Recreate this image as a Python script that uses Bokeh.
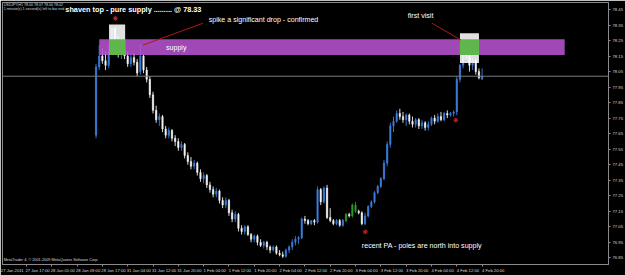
from bokeh.plotting import figure
from bokeh.models import (Range1d, FixedTicker, ColumnDataSource, Span, Label,
                          PrintfTickFormatter)
from bokeh.core.properties import value
from bokeh.embed import file_html
from bokeh.resources import INLINE

# ---------------- data (H1 bars, index = bar number from "27 Jan 2011") -------------
first_bar = 30
opens = [77.64, 78.08, 78.15, 78.12, 78.09, 78.18, 78.33, 78.22, 78.16, 78.19,
         78.15, 78.10, 78.14, 78.11, 78.05, 78.15, 78.06,
         78.00, 77.90, 77.80, 77.74, 77.76, 77.68, 77.64, 77.67, 77.62, 77.60,
         77.56, 77.58, 77.51, 77.47, 77.44, 77.46, 77.40, 77.36, 77.38, 77.32,
         77.29, 77.26, 77.28, 77.22, 77.19, 77.22, 77.14, 77.10, 77.13, 77.04,
         77.02, 77.05, 77.00, 76.97, 76.99, 76.95, 76.93, 76.95, 76.92, 76.90,
         76.92, 76.88, 76.87, 76.86,
         76.90, 76.92, 76.95, 76.97, 76.98, 77.10, 77.09, 77.07, 77.09,
         77.08, 77.29, 77.21, 77.30, 77.11, 77.09, 77.07, 77.09, 77.06, 77.09,
         77.13, 77.12, 77.19, 77.15, 77.14, 77.07, 77.12, 77.18, 77.21, 77.27,
         77.31, 77.36, 77.46, 77.58, 77.70, 77.73, 77.78, 77.76, 77.74, 77.77,
         77.73, 77.71, 77.74, 77.70, 77.72, 77.69, 77.71, 77.75, 77.73, 77.76,
         77.74, 77.78, 77.77, 77.78, 77.79, 78.00, 78.09, 78.21, 78.15, 78.09,
         78.12, 78.05, 78.00]
highs = [78.10, 78.22, 78.20, 78.18, 78.22, 78.33, 78.33, 78.28, 78.22, 78.21,
         78.18, 78.16, 78.17, 78.13, 78.23, 78.16, 78.08,
         78.02, 77.92, 77.83, 77.78, 77.77, 77.70, 77.69, 77.68, 77.64, 77.62,
         77.60, 77.59, 77.53, 77.50, 77.48, 77.47, 77.42, 77.40, 77.39, 77.34,
         77.31, 77.30, 77.29, 77.24, 77.24, 77.23, 77.16, 77.15, 77.14, 77.06,
         77.06, 77.06, 77.01, 77.00, 77.00, 76.97, 76.96, 76.96, 76.93, 76.93,
         76.93, 76.90, 76.89, 76.91,
         76.93, 76.97, 76.99, 76.99, 77.11, 77.12, 77.10, 77.09, 77.10,
         77.31, 77.30, 77.31, 77.32, 77.17, 77.10, 77.10, 77.10, 77.10, 77.14,
         77.14, 77.20, 77.21, 77.16, 77.15, 77.14, 77.19, 77.22, 77.28, 77.32,
         77.37, 77.48, 77.60, 77.72, 77.76, 77.80, 77.81, 77.79, 77.78, 77.78,
         77.76, 77.75, 77.75, 77.74, 77.73, 77.73, 77.76, 77.77, 77.78, 77.79,
         77.79, 77.80, 77.79, 77.80, 78.02, 78.10, 78.23, 78.24, 78.18, 78.14,
         78.13, 78.07, 78.07]
lows = [77.62, 78.06, 78.10, 78.06, 78.07, 78.17, 78.20, 78.14, 78.13, 78.13,
        78.08, 78.08, 78.09, 78.02, 78.03, 78.04, 77.98,
        77.88, 77.78, 77.72, 77.70, 77.66, 77.62, 77.62, 77.60, 77.57, 77.54,
        77.54, 77.49, 77.45, 77.42, 77.42, 77.38, 77.34, 77.33, 77.30, 77.27,
        77.24, 77.24, 77.20, 77.17, 77.17, 77.12, 77.08, 77.08, 77.02, 77.00,
        77.00, 76.99, 76.95, 76.95, 76.93, 76.92, 76.91, 76.90, 76.88, 76.89,
        76.87, 76.86, 76.85, 76.85,
        76.88, 76.90, 76.93, 76.94, 76.97, 77.07, 77.06, 77.06, 77.06,
        77.07, 77.19, 77.20, 77.10, 77.08, 77.06, 77.06, 77.05, 77.05, 77.08,
        77.11, 77.11, 77.14, 77.13, 77.06, 77.06, 77.11, 77.17, 77.20, 77.26,
        77.30, 77.35, 77.44, 77.56, 77.66, 77.72, 77.74, 77.72, 77.70, 77.71,
        77.69, 77.69, 77.68, 77.68, 77.67, 77.67, 77.70, 77.71, 77.72, 77.73,
        77.73, 77.75, 77.76, 77.76, 77.77, 77.98, 78.07, 78.13, 78.05, 78.06,
        78.03, 78.00, 78.00]
closes = [78.08, 78.15, 78.12, 78.09, 78.18, 78.33, 78.22, 78.16, 78.19, 78.15,
          78.10, 78.14, 78.11, 78.04, 78.15, 78.06, 78.00,
          77.90, 77.80, 77.74, 77.76, 77.68, 77.64, 77.67, 77.62, 77.60, 77.56,
          77.58, 77.51, 77.47, 77.44, 77.46, 77.40, 77.36, 77.38, 77.32, 77.29,
          77.26, 77.28, 77.22, 77.19, 77.22, 77.14, 77.10, 77.13, 77.04, 77.02,
          77.05, 77.00, 76.97, 76.99, 76.95, 76.93, 76.95, 76.92, 76.90, 76.92,
          76.88, 76.87, 76.86, 76.90,
          76.92, 76.95, 76.97, 76.98, 77.10, 77.09, 77.07, 77.09, 77.08,
          77.29, 77.21, 77.30, 77.11, 77.09, 77.07, 77.09, 77.06, 77.09, 77.13,
          77.12, 77.19, 77.15, 77.14, 77.07, 77.12, 77.18, 77.21, 77.27, 77.31,
          77.36, 77.46, 77.58, 77.70, 77.73, 77.78, 77.76, 77.74, 77.77, 77.73,
          77.71, 77.74, 77.70, 77.72, 77.69, 77.71, 77.75, 77.73, 77.76, 77.74,
          77.78, 77.77, 77.78, 77.79, 78.00, 78.09, 78.21, 78.15, 78.09, 78.12,
          78.05, 78.01, 78.02]
pole_bars = [109, 111, 112]

time_labels = ["27 Jan 2011", "27 Jan 17:00", "28 Jan 01:00", "28 Jan 09:00",
               "28 Jan 17:00", "31 Jan 04:00", "31 Jan 12:00", "31 Jan 20:00",
               "1 Feb 04:00", "1 Feb 12:00", "1 Feb 20:00", "2 Feb 04:00",
               "2 Feb 12:00", "2 Feb 20:00", "3 Feb 04:00", "3 Feb 12:00",
               "3 Feb 20:00", "4 Feb 04:00", "4 Feb 12:00", "4 Feb 20:00"]
bars_per_label = 8
price_ticks = [76.85, 76.95, 77.05, 77.15, 77.25, 77.35, 77.45, 77.55, 77.65,
               77.75, 77.85, 77.95, 78.05, 78.15, 78.25, 78.35, 78.45]
current_price = 78.02

# chart objects (anchored in bar / price like the terminal's objects)
supply_zone = (31.0, 178.1, 78.157, 78.259)          # left, right, bottom, top
white_boxes = [(34.1, 39.2, 78.157, 78.354), (145.0, 151.0, 78.106, 78.297)]
green_boxes = [(34.1, 39.2, 78.157, 78.259), (145.0, 151.0, 78.157, 78.259)]
red_lines = [((44.85, 78.221), (63.75, 78.361)), ((136.2, 78.361), (145.3, 78.253))]
red_marks_x = [36.1, 115.1, 143.7]
red_marks_y = [78.393, 77.017, 77.737]

# ---------------- figure ----------------
BG = "#000000"
AX = "#8a8a8a"
TXT = "#d8d8d8"
p = figure(width=625, height=275, output_backend="svg", toolbar_location=None,
           x_range=Range1d(0.44, 191.94), y_range=Range1d(76.807, 78.495),
           y_axis_location="right", background_fill_color=BG, border_fill_color=BG,
           min_border_left=2, min_border_top=2, min_border_right=14, min_border_bottom=8)
p.grid.visible = False
p.outline_line_color = AX

xs = [first_bar + k for k in range(len(closes))]
cols = []
for k, x in enumerate(xs):
    if x in pole_bars:
        cols.append("#2f9a2f")
    elif closes[k] >= opens[k]:
        cols.append("#3a7fdc")
    else:
        cols.append("#f2f2f2")
src = ColumnDataSource(dict(x=xs, o=opens, h=highs, l=lows, c=closes,
                            top=[max(a, b) for a, b in zip(opens, closes)],
                            bot=[min(a, b) for a, b in zip(opens, closes)],
                            col=cols))
p.segment(x0="x", y0="l", x1="x", y1="h", source=src, line_color="col", line_width=0.9)
p.vbar(x="x", top="top", bottom="bot", width=0.42, source=src,
       fill_color="col", line_color="col", line_width=0.6)

# supply zone and boxes drawn over, slightly transparent like the terminal's background objects
p.quad(left=[supply_zone[0]], right=[supply_zone[1]], bottom=[supply_zone[2]],
       top=[supply_zone[3]], fill_color="#bb55d6", fill_alpha=0.85, line_color=None)
p.quad(left=[b[0] for b in white_boxes], right=[b[1] for b in white_boxes],
       bottom=[b[2] for b in white_boxes], top=[b[3] for b in white_boxes],
       fill_color="#ffffff", fill_alpha=0.88, line_color=None)
p.quad(left=[b[0] for b in green_boxes], right=[b[1] for b in green_boxes],
       bottom=[b[2] for b in green_boxes], top=[b[3] for b in green_boxes],
       fill_color="#44ad2e", fill_alpha=0.85, line_color=None)

p.add_layout(Span(location=current_price, dimension="width", line_color="#7a7a7a",
                  line_width=1))

p.segment(x0=[a[0] for a, b in red_lines], y0=[a[1] for a, b in red_lines],
          x1=[b[0] for a, b in red_lines], y1=[b[1] for a, b in red_lines],
          line_color="#b01818", line_width=1)
p.scatter(red_marks_x, red_marks_y, marker="asterisk", size=5, line_color="#d02020")

font = value("Liberation Sans")
p.text(x=[20.3], y=[78.45], text=["shaven top - pure supply ......... @ 78.33"],
       text_font=font, text_font_size="7.3px", text_color="#ffffff",
       text_baseline="middle", text_font_style="bold")
p.text(x=[65.6, 128.5, 114.0], y=[78.383, 78.407, 76.928],
       text=["spike a significant drop - confirmed", "first visit",
             "recent PA - poles are north into supply"],
       text_font=font, text_font_size="7.1px", text_color="#ffffff",
       text_baseline="middle")
p.text(x=[52.1], y=[78.202], text=["supply"], text_font=font, text_font_size="7.1px",
       text_color="#ffffff", text_baseline="middle")
p.text(x=[0.8, 0.8], y=[78.482, 78.455],
       text=["USDJPY,H1  78.00 78.07 78.00 78.02", "1 minute(s) 1 second(s) left to bar end"],
       text_font=font, text_font_size="3.6px", text_color=TXT, text_baseline="middle")
p.text(x=[0.8], y=[76.838], text=["MetaTrader 4, \u00a9 2001-2009 MetaQuotes Software Corp."],
       text_font=font, text_font_size="3.8px", text_color=TXT, text_baseline="middle")

# ---------------- axes ----------------
shift = 3.5
tick_pos = [bars_per_label * k for k in range(len(time_labels))]
label_pos = [t + shift for t in tick_pos]
xa = p.xaxis[0]
xa.ticker = FixedTicker(ticks=label_pos, minor_ticks=tick_pos)
xa.major_label_overrides = {lp: lab for lp, lab in zip(label_pos, time_labels)}
xa.major_tick_line_color = None
xa.major_tick_out = 2
xa.major_tick_in = 0
xa.minor_tick_line_color = AX
xa.minor_tick_out = 2
xa.minor_tick_in = 0
xa.major_label_standoff = 1
xa.major_label_text_font = "Liberation Sans"
xa.major_label_text_font_size = "4.2px"
xa.major_label_text_color = TXT
xa.axis_line_color = AX

ya = p.yaxis[0]
ya.ticker = FixedTicker(ticks=price_ticks, minor_ticks=[])
ya.formatter = PrintfTickFormatter(format="%.2f")
ya.major_tick_line_color = AX
ya.major_tick_out = 2
ya.major_tick_in = 0
ya.major_label_standoff = 2
ya.major_label_text_font = "Liberation Sans"
ya.major_label_text_font_size = "4.2px"
ya.major_label_text_color = TXT
ya.axis_line_color = AX

p.add_layout(Label(x=192.5, y=current_price, text="78.02", text_font="Liberation Sans",
                   text_font_size="4.2px", text_color="#000000", text_baseline="middle",
                   background_fill_color="#ffffff"))

open("out.html", "w").write(file_html(p, INLINE))
